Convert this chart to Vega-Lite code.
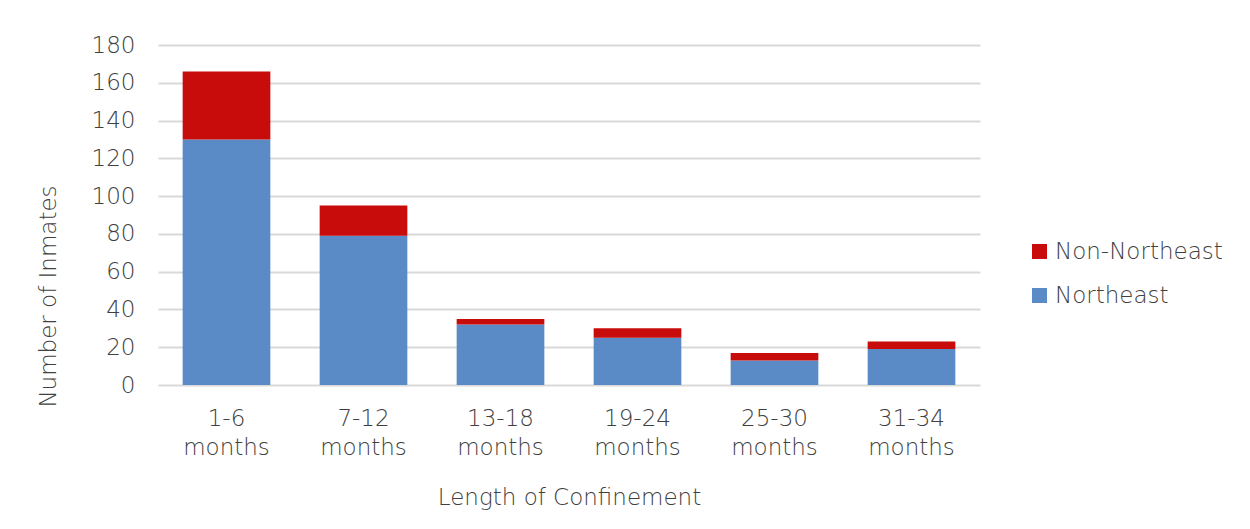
{
  "$schema": "https://vega.github.io/schema/vega-lite/v6.json",
  "autosize": {"type": "none"},
  "padding": {"left": 158, "top": 45, "right": 270, "bottom": 144},
  "width": 822,
  "height": 340,
  "background": "white",
  "config": {
    "view": {"stroke": null},
    "font": "DejaVu Sans",
    "axis": {"labelFont": "DejaVu Sans", "titleFont": "DejaVu Sans", "labelColor": "#404040", "titleColor": "#404040", "labelFontWeight": 200, "titleFontWeight": 200},
    "legend": {"labelFont": "DejaVu Sans", "labelColor": "#404040", "labelFontWeight": 200}
  },
  "data": {
    "values": [
      {"length": "1-6 months", "region": "Northeast", "count": 130},
      {"length": "1-6 months", "region": "Non-Northeast", "count": 36},
      {"length": "7-12 months", "region": "Northeast", "count": 79},
      {"length": "7-12 months", "region": "Non-Northeast", "count": 16},
      {"length": "13-18 months", "region": "Northeast", "count": 32},
      {"length": "13-18 months", "region": "Non-Northeast", "count": 3},
      {"length": "19-24 months", "region": "Northeast", "count": 25},
      {"length": "19-24 months", "region": "Non-Northeast", "count": 5},
      {"length": "25-30 months", "region": "Northeast", "count": 13},
      {"length": "25-30 months", "region": "Non-Northeast", "count": 4},
      {"length": "31-34 months", "region": "Northeast", "count": 19},
      {"length": "31-34 months", "region": "Non-Northeast", "count": 4}
    ]
  },
  "mark": {"type": "bar"},
  "encoding": {
    "x": {
      "field": "length",
      "type": "nominal",
      "sort": null,
      "scale": {"paddingInner": 0.36, "paddingOuter": 0.18},
      "axis": {
        "title": "Length of Confinement",
        "labelAngle": 0,
        "labelExpr": "split(datum.label, ' ')",
        "labelFontSize": 23,
        "labelLineHeight": 29,
        "labelPadding": 33,
        "labelBaseline": "middle",
        "ticks": false,
        "domain": false,
        "titleFontSize": 23,
        "titleY": 112,
        "titleBaseline": "middle"
      }
    },
    "y": {
      "field": "count",
      "type": "quantitative",
      "aggregate": "sum",
      "scale": {"domain": [0, 180]},
      "axis": {
        "title": "Number of Inmates",
        "values": [0, 20, 40, 60, 80, 100, 120, 140, 160, 180],
        "labelFontSize": 23,
        "labelPadding": 23,
        "ticks": false,
        "domain": false,
        "gridColor": "#d9d9d9",
        "gridWidth": 2,
        "titleFontSize": 23,
        "titleX": -110,
        "titleY": 251,
        "titleAlign": "center",
        "titleBaseline": "middle",
        "titleAngle": 270
      }
    },
    "color": {
      "field": "region",
      "type": "nominal",
      "scale": {"domain": ["Non-Northeast", "Northeast"], "range": ["#C80B0B", "#5B8BC7"]},
      "legend": {
        "title": null,
        "orient": "none",
        "legendX": 870,
        "legendY": 195,
        "symbolType": "square",
        "symbolSize": 225,
        "symbolStrokeWidth": 0,
        "labelFontSize": 23,
        "labelLimit": 300,
        "rowPadding": 20,
        "labelOffset": 4
      }
    },
    "order": {"field": "region", "sort": "descending"}
  }
}
